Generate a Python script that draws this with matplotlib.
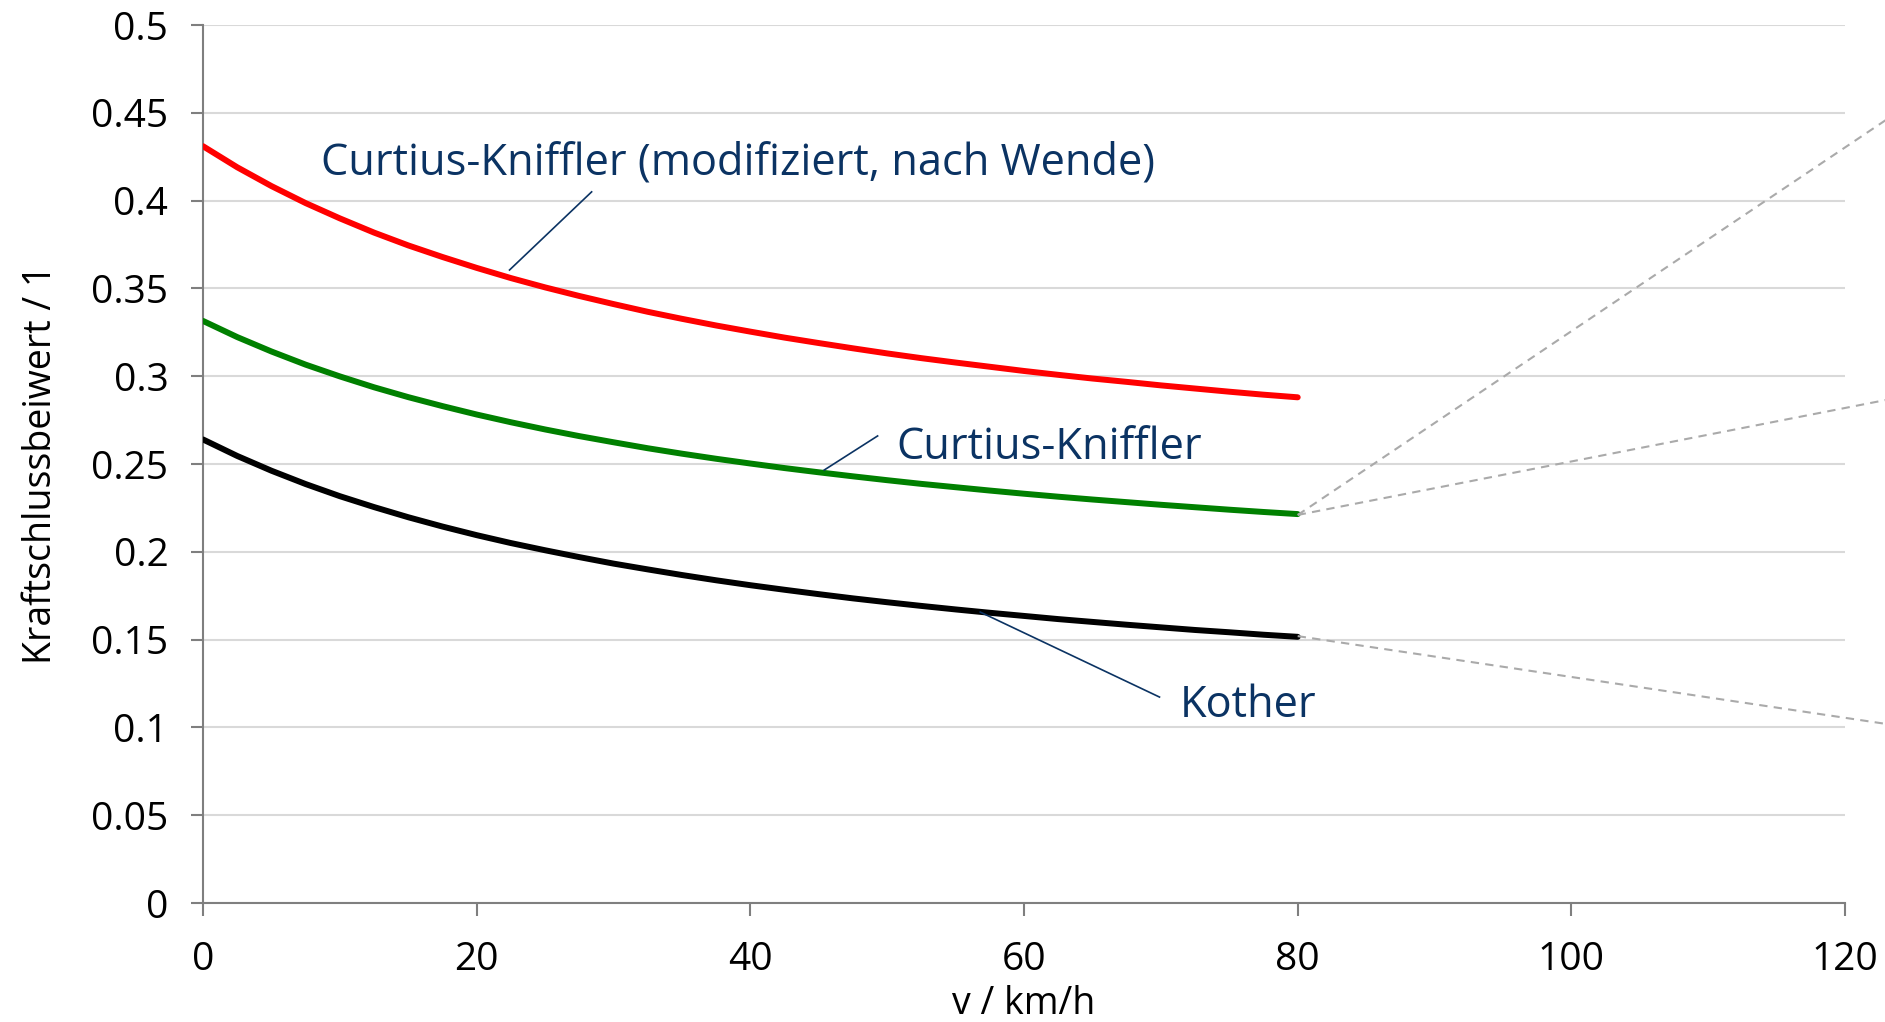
import matplotlib.pyplot as plt

plt.rcParams['font.family'] = ['Open Sans', 'DejaVu Sans']

# speed in km/h
speed = [0, 2.5, 5, 7.5, 10, 12.5, 15, 17.5, 20, 22.5, 25, 27.5, 30, 32.5, 35, 37.5, 40,
         42.5, 45, 47.5, 50, 52.5, 55, 57.5, 60, 62.5, 65, 67.5, 70, 72.5, 75, 77.5, 80]

# adhesion coefficients
mu_ck_mod = [0.4310, 0.4190, 0.4083, 0.3986, 0.3899, 0.3818, 0.3745, 0.3679, 0.3617,
             0.3559, 0.3506, 0.3457, 0.3411, 0.3367, 0.3327, 0.3289, 0.3254, 0.3220,
             0.3189, 0.3159, 0.3130, 0.3103, 0.3078, 0.3054, 0.3030, 0.3008, 0.2987,
             0.2968, 0.2948, 0.2930, 0.2912, 0.2895, 0.2880]
mu_ck = [0.3315, 0.3223, 0.3141, 0.3066, 0.2999, 0.2937, 0.2881, 0.2830, 0.2782,
         0.2738, 0.2697, 0.2659, 0.2624, 0.2590, 0.2559, 0.2530, 0.2503, 0.2477,
         0.2453, 0.2430, 0.2408, 0.2387, 0.2368, 0.2349, 0.2331, 0.2314, 0.2298,
         0.2283, 0.2268, 0.2254, 0.2240, 0.2227, 0.2215]
mu_kother = [0.2640, 0.2546, 0.2462, 0.2386, 0.2317, 0.2255, 0.2197, 0.2144, 0.2095,
             0.2050, 0.2009, 0.1970, 0.1933, 0.1900, 0.1868, 0.1838, 0.1810, 0.1784,
             0.1759, 0.1735, 0.1713, 0.1692, 0.1672, 0.1653, 0.1635, 0.1617, 0.1601,
             0.1585, 0.1570, 0.1555, 0.1542, 0.1528, 0.1516]

x_ticks = [0, 20, 40, 60, 80, 100, 120]
y_ticks = [0, 0.05, 0.1, 0.15, 0.2, 0.25, 0.3, 0.35, 0.4, 0.45, 0.5]
y_tick_labels = ['0', '0.05', '0.1', '0.15', '0.2', '0.25', '0.3', '0.35', '0.4', '0.45', '0.5']

# callout lines leaving the plot to the right (start point, end point)
callouts = [((80, 0.221), (123, 0.446)),
            ((80, 0.221), (123, 0.2865)),
            ((80, 0.152), (123, 0.102))]

# series labels: text, text position, leader start, leader end
labels = [('Curtius-Kniffler (modifiziert, nach Wende)', (8.6, 0.4215), (28.4, 0.405), (22.4, 0.3605)),
          ('Curtius-Kniffler', (50.7, 0.2595), (49.3, 0.266), (45.4, 0.2466)),
          ('Kother', (71.4, 0.1125), (69.9, 0.1173), (56.8, 0.1657))]

label_color = '#0b3363'
grid_color = '#d9d9d9'
spine_color = '#7f7f7f'

fig = plt.figure(figsize=(18.85, 10.22), dpi=100)
ax = fig.add_axes([0.1077, 0.1164, 0.8711, 0.8591])

ax.set_xlim(0, 120)
ax.set_ylim(0, 0.5)
ax.set_xticks(x_ticks)
ax.set_yticks(y_ticks)
ax.set_yticklabels(y_tick_labels)

ax.grid(axis='y', color=grid_color, linewidth=1.5)
ax.set_axisbelow(True)
for side in ['top', 'right']:
    ax.spines[side].set_visible(False)
for side in ['left', 'bottom']:
    ax.spines[side].set_color(spine_color)
    ax.spines[side].set_linewidth(1.5)
ax.tick_params(axis='both', direction='out', length=9, width=1.5, color=spine_color,
               labelsize=28, pad=16)
ax.tick_params(axis='x', pad=18)

for (x0, y0), (x1, y1) in callouts:
    ax.plot([x0, x1], [y0, y1], color='#aaaaaa', linewidth=1.5, linestyle=(0, (4, 3)),
            clip_on=False, zorder=4)

ax.plot(speed, mu_ck_mod, color='#ff0000', linewidth=4.3, solid_capstyle='round', zorder=3)
ax.plot(speed, mu_ck, color='#008000', linewidth=4.3, solid_capstyle='round', zorder=3)
ax.plot(speed, mu_kother, color='#000000', linewidth=4.3, solid_capstyle='round', zorder=3)

for text, pos, p0, p1 in labels:
    ax.plot([p0[0], p1[0]], [p0[1], p1[1]], color=label_color, linewidth=1.2, zorder=5)
    ax.text(pos[0], pos[1], text, color=label_color, fontsize=31.2, ha='left', va='center')

ax.set_xlabel('v / km/h', fontsize=27, labelpad=5)
ax.set_ylabel('Kraftschlussbeiwert / 1', fontsize=27, labelpad=22)

fig.savefig('out.png', dpi=100)
